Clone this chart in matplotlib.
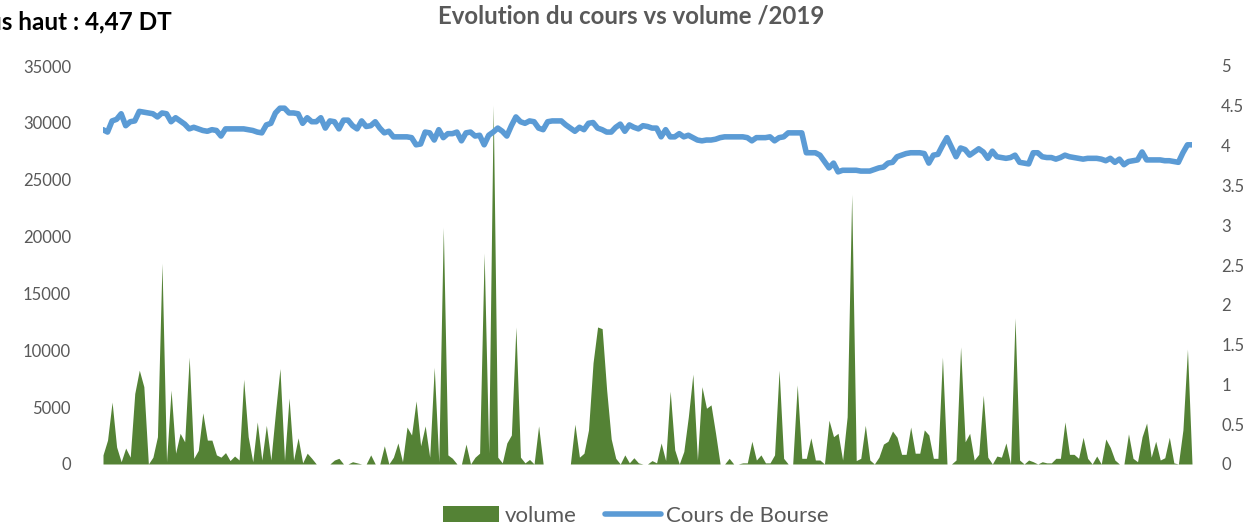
import numpy as np
import matplotlib.pyplot as plt
from matplotlib.ticker import FuncFormatter

# daily volume 2019
volume = [
    800, 2100, 5450, 1500, 200, 1400, 600, 6200, 8250, 6800,
    0, 600, 2400, 17650, 200, 6500, 950, 2700, 1950, 9400,
    500, 1200, 4500, 2100, 2100, 800, 600, 1000, 300, 700,
    350, 7450, 2400, 200, 3700, 350, 3400, 350, 4500, 8400,
    300, 5800, 350, 2300, 100, 950, 500, 0, 0, 0,
    0, 350, 500, 0, 0, 200, 100, 0, 0, 800,
    0, 0, 1600, 0, 600, 1850, 200, 3250, 2550, 5550,
    1600, 3350, 600, 8500, 200, 20800, 800, 500, 0, 0,
    1750, 0, 600, 950, 18550, 950, 31550, 600, 100, 1850,
    2550, 12050, 600, 100, 400, 0, 3350, 0, 0, 0,
    0, 0, 0, 0, 3500, 600, 950, 3000, 8900, 12050,
    11900, 6500, 2200, 500, 0, 800, 100, 550, 100, 0,
    0, 300, 100, 1850, 300, 6400, 1250, 0, 1100, 4150,
    7900, 350, 6800, 4900, 5200, 2700, 0, 0, 500, 0,
    0, 100, 100, 2000, 350, 800, 100, 100, 800, 8250,
    500, 0, 0, 6950, 500, 500, 2300, 350, 350, 0,
    3850, 2400, 2700, 350, 4150, 23700, 300, 500, 3400, 350,
    0, 600, 1750, 2000, 2900, 2350, 850, 850, 3250, 950,
    950, 3000, 2550, 500, 500, 9400, 0, 0, 350, 10300,
    1950, 2700, 350, 850, 6050, 600, 0, 700, 600, 1850,
    0, 12850, 350, 0, 350, 200, 0, 200, 100, 100,
    500, 500, 3700, 850, 850, 500, 2350, 500, 0, 700,
    0, 2200, 1450, 350, 0, 0, 2650, 500, 200, 2400,
    3600, 600, 2000, 350, 550, 2350, 100, 0, 3000, 10100,
    0,
]

# closing price (DT)
cours = [
    4.20, 4.17, 4.31, 4.33, 4.40, 4.25, 4.30, 4.31, 4.43, 4.42,
    4.41, 4.40, 4.36, 4.41, 4.40, 4.30, 4.35, 4.31, 4.27, 4.21,
    4.23, 4.21, 4.19, 4.18, 4.20, 4.19, 4.12, 4.21, 4.21, 4.21,
    4.21, 4.21, 4.20, 4.19, 4.17, 4.16, 4.26, 4.28, 4.41, 4.47,
    4.47, 4.41, 4.41, 4.40, 4.28, 4.35, 4.30, 4.30, 4.35, 4.22,
    4.31, 4.30, 4.21, 4.32, 4.32, 4.25, 4.21, 4.31, 4.24, 4.25,
    4.30, 4.22, 4.16, 4.18, 4.11, 4.11, 4.11, 4.11, 4.10, 4.01,
    4.02, 4.17, 4.16, 4.07, 4.20, 4.10, 4.15, 4.15, 4.17, 4.06,
    4.16, 4.17, 4.12, 4.13, 4.01, 4.13, 4.17, 4.22, 4.18, 4.12,
    4.25, 4.36, 4.30, 4.28, 4.31, 4.30, 4.22, 4.20, 4.30, 4.31,
    4.31, 4.31, 4.26, 4.22, 4.18, 4.23, 4.20, 4.28, 4.29, 4.22,
    4.20, 4.17, 4.17, 4.23, 4.27, 4.18, 4.26, 4.23, 4.21, 4.25,
    4.24, 4.22, 4.22, 4.11, 4.20, 4.11, 4.11, 4.15, 4.11, 4.13,
    4.10, 4.07, 4.06, 4.07, 4.07, 4.08, 4.10, 4.11, 4.11, 4.11,
    4.11, 4.11, 4.10, 4.06, 4.10, 4.10, 4.10, 4.11, 4.06, 4.10,
    4.11, 4.16, 4.16, 4.16, 4.16, 3.91, 3.91, 3.91, 3.88, 3.80,
    3.72, 3.78, 3.67, 3.69, 3.69, 3.69, 3.69, 3.68, 3.68, 3.68,
    3.70, 3.72, 3.73, 3.78, 3.79, 3.86, 3.88, 3.90, 3.91, 3.91,
    3.91, 3.90, 3.78, 3.88, 3.89, 4.00, 4.10, 3.98, 3.86, 3.97,
    3.95, 3.88, 3.92, 3.96, 3.92, 3.84, 3.93, 3.86, 3.85, 3.84,
    3.85, 3.88, 3.79, 3.78, 3.77, 3.91, 3.91, 3.86, 3.85, 3.85,
    3.83, 3.85, 3.88, 3.86, 3.85, 3.84, 3.83, 3.84, 3.84, 3.84,
    3.83, 3.81, 3.84, 3.79, 3.83, 3.76, 3.80, 3.81, 3.82, 3.92,
    3.82, 3.82, 3.82, 3.82, 3.81, 3.81, 3.80, 3.79, 3.91, 4.01,
    4.01,
]

vol_ticks = np.arange(0, 35001, 5000)
cours_ticks = np.arange(0, 5.01, 0.5)

green = '#548235'
blue = '#5B9BD5'
grey = '#595959'

plt.rcParams['font.family'] = ['Lato', 'DejaVu Sans']

fig = plt.figure(figsize=(12.5, 5.28), dpi=100)
ax = fig.add_axes([103 / 1250, 1 - 464 / 528, (1192 - 103) / 1250, (464 - 66) / 528])
ax2 = ax.twinx()

x = np.arange(len(volume))
ax.fill_between(x, volume, 0, color=green, linewidth=0, label='volume')
ax2.plot(x, cours, color=blue, linewidth=4, solid_capstyle='round',
         solid_joinstyle='round', label='Cours de Bourse')

ax.set_xlim(0, len(volume) - 1)
ax.set_ylim(0, 35000)
ax2.set_ylim(0, 5)
ax.set_yticks(vol_ticks)
ax2.set_yticks(cours_ticks)
ax2.yaxis.set_major_formatter(FuncFormatter(lambda v, p: '%g' % v))
ax.set_xticks([])

for a in (ax, ax2):
    for s in a.spines.values():
        s.set_visible(False)
    a.tick_params(axis='y', length=0, labelsize=12, labelcolor=grey)
ax.tick_params(axis='y', pad=23)
ax2.tick_params(axis='y', pad=21)

fig.text(631 / 1250, 1 - 16 / 528, 'Evolution du cours vs volume /2019',
         ha='center', va='center', fontsize=17.3, fontweight='bold', color=grey)
# the reference cuts this label at the left edge, only "...s haut : 4,47 DT" shows
fig.text(172 / 1250, 1 - 22 / 528, 'Plus haut : 4,47 DT',
         ha='right', va='center', fontsize=17.5, fontweight='bold', color='black')

h1, l1 = ax.get_legend_handles_labels()
h2, l2 = ax2.get_legend_handles_labels()
fig.legend(h1 + h2, l1 + l2, loc='center', bbox_to_anchor=(636 / 1250, 1 - 516 / 528),
           ncol=2, frameon=False, fontsize=16, labelcolor=grey,
           handlelength=2.5, handleheight=0.7, handletextpad=0.25, columnspacing=1.3)

fig.savefig('out.png', dpi=100)
